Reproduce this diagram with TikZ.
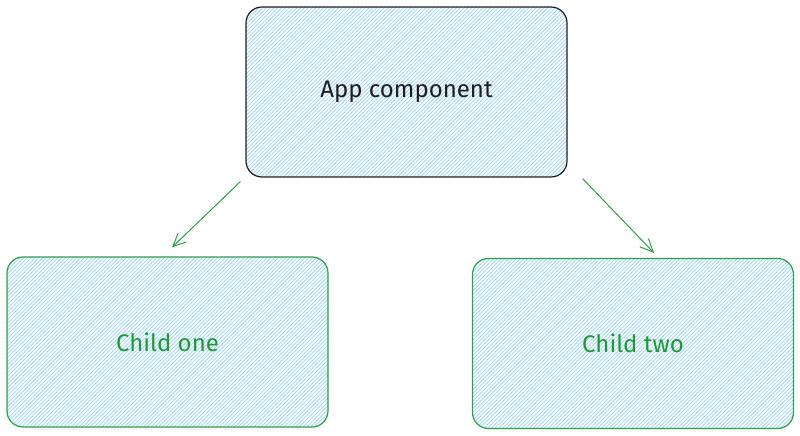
\documentclass[tikz,border=0pt]{standalone}
\usepackage{fontspec}
\setmainfont{Fira Sans}
\usetikzlibrary{arrows.meta}
\definecolor{exgreen}{HTML}{2F9E44}
\definecolor{exgreentext}{HTML}{1E9A34}
\definecolor{exblack}{HTML}{1E1E1E}
\definecolor{exblue}{HTML}{A5D8FF}
\tikzset{
  card/.style={rounded corners=16pt, minimum width=321pt, minimum height=170pt,
    line width=1.2pt, inner sep=0pt,
    path picture={\foreach \k in {-64,...,64}
      \draw[exblue, line width=0.9pt] ([shift={(\k*3.8pt-110pt,-110pt)}]path picture bounding box.center) -- ++(220pt,220pt);}},
  appbox/.style={card, draw=exblack, text=exblack, font=\fontsize{24}{28}\selectfont},
  childbox/.style={card, draw=exgreen, text=exgreentext, font=\fontsize{24}{28}\selectfont},
  link/.style={draw=exgreen, line width=1pt, -{Straight Barb[length=13pt,width=12pt,line width=1pt]}}
}
\begin{document}
\begin{tikzpicture}[x=1pt,y=1pt]
\useasboundingbox (0,0) rectangle (800,436);
\node[appbox] (app) at (406.5,344) {App component};
\node[childbox] (c1) at (167.5,94) {Child one};
\node[childbox] (c2) at (633,92.5) {Child two};
\draw[link] ([shift={(-5pt,-4pt)}]app.south west) -- ([shift={(4.5pt,9pt)}]c1.north);
\draw[link] ([shift={(15pt,-1pt)}]app.south east) -- ([shift={(21pt,5pt)}]c2.north);
\end{tikzpicture}
\end{document}
